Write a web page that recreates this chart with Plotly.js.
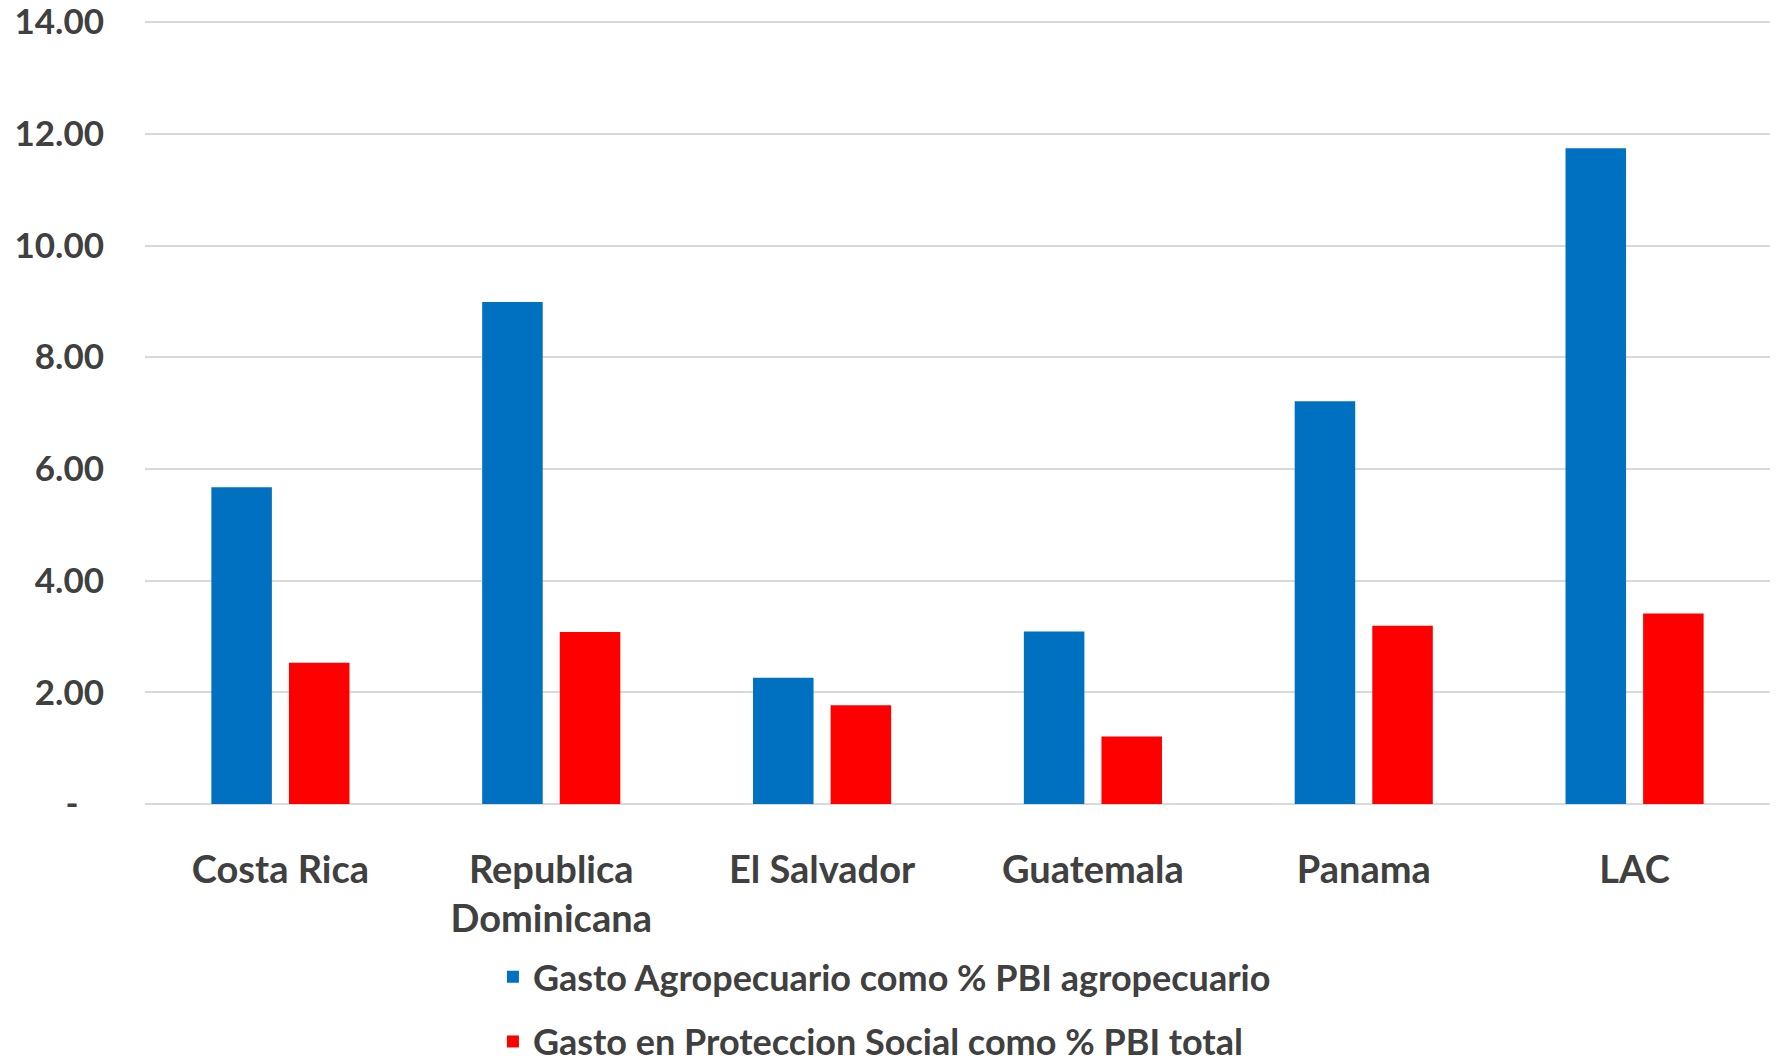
<!DOCTYPE html>
<html>
<head>
<meta charset="utf-8">
<script src="https://cdn.plot.ly/plotly-3.0.1.min.js"></script>
<style>html,body{margin:0;padding:0;background:#fff;}#chart{width:1777px;height:1059px;}</style>
</head>
<body>
<div id="chart"></div>
<script>
const categories = ["Costa Rica", "Republica<br>Dominicana", "El Salvador", "Guatemala", "Panama", "LAC"];
const seriesNames = ["Gasto Agropecuario como % PBI agropecuario", "Gasto en Proteccion Social como % PBI total"];
const gastoAgro = [5.67, 8.99, 2.26, 3.09, 7.21, 11.74];
const gastoSocial = [2.53, 3.08, 1.77, 1.21, 3.19, 3.41];
const yTickVals = [0, 2, 4, 6, 8, 10, 12, 14];
const yTickText = ["-\u00a0\u00a0\u00a0", "2.00", "4.00", "6.00", "8.00", "10.00", "12.00", "14.00"];

const textColor = "#404040";
const traces = [
  {type: "bar", name: seriesNames[0], x: categories, y: gastoAgro,
   marker: {color: "#0070C0", line: {width: 0}}, legendgroup: "a", hoverinfo: "y"},
  {type: "bar", name: seriesNames[1], x: categories, y: gastoSocial,
   marker: {color: "#FF0000", line: {width: 0}}, legendgroup: "b", hoverinfo: "y"}
];
const layout = {
  width: 1777, height: 1059,
  margin: {l: 145, r: 7, t: 21, b: 255, autoexpand: false},
  paper_bgcolor: "#fff", plot_bgcolor: "#fff",
  font: {family: "Lato, 'Open Sans', sans-serif", color: textColor},
  barmode: "group", bargap: 0.427, bargroupgap: 0.22,
  showlegend: true,
  legend: {
    orientation: "v", xref: "container", yref: "container",
    x: 0.2774, y: 0.106, xanchor: "left", yanchor: "top",
    font: {family: "Lato", size: 36, color: textColor, weight: "bold"},
    tracegroupgap: 15, traceorder: "grouped",
    bgcolor: "rgba(0,0,0,0)"
  },
  xaxis: {
    type: "category", showgrid: false, zeroline: false, showline: false,
    ticks: "", ticklabelstandoff: 40, tickangle: 0, automargin: false,
    tickfont: {family: "Lato", size: 38, color: textColor, weight: "bold"}
  },
  yaxis: {
    range: [0, 14.02], tickmode: "array", tickvals: yTickVals, ticktext: yTickText,
    showgrid: true, gridcolor: "#d9d9d9", gridwidth: 1.5,
    zeroline: true, zerolinecolor: "#d9d9d9", zerolinewidth: 1.5,
    showline: false, ticks: "", ticklabelstandoff: 40, automargin: false,
    ticklabeloverflow: "allow",
    tickfont: {family: "Lato", size: 35, color: textColor, weight: "bold"}
  }
};
Plotly.newPlot("chart", traces, layout, {displayModeBar: false, responsive: false});
</script>
</body>
</html>
